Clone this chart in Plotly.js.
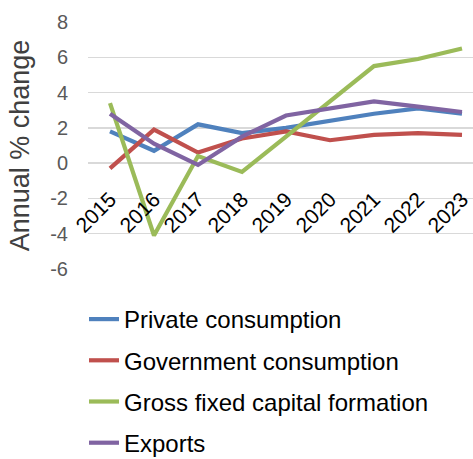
<!DOCTYPE html>
<html>
<head>
<meta charset="utf-8">
<script src="https://cdn.plot.ly/plotly-3.0.1.min.js"></script>
<style>
html,body{margin:0;padding:0;background:#fff;overflow:hidden;}
#wrap{width:473px;height:459px;overflow:hidden;position:relative;}
#chart{width:473px;height:474px;}
</style>
</head>
<body>
<div id="wrap"><div id="chart"></div></div>
<script>
var years = ['2015','2016','2017','2018','2019','2020','2021','2022','2023'];
var privateConsumption = [1.8, 0.7, 2.2, 1.7, 2.0, 2.4, 2.8, 3.1, 2.8];
var governmentConsumption = [-0.3, 1.9, 0.6, 1.4, 1.8, 1.3, 1.6, 1.7, 1.6];
var grossFixedCapital = [3.4, -4.1, 0.4, -0.5, 1.5, 3.5, 5.5, 5.9, 6.5];
var exportsGrowth = [2.8, 1.1, -0.1, 1.5, 2.7, 3.1, 3.5, 3.2, 2.9];
var seriesNames = ['Private consumption','Government consumption','Gross fixed capital formation','Exports'];
var seriesColors = ['#4F81BD','#C0504D','#9BBB59','#8064A2'];
var yTicks = [-6,-4,-2,0,2,4,6,8];

var seriesData = [privateConsumption, governmentConsumption, grossFixedCapital, exportsGrowth];
var traces = seriesData.map(function(vals, i){
  return {
    type: 'scatter', mode: 'lines',
    x: years, y: vals, name: seriesNames[i],
    legendgroup: 'g' + i,
    line: {color: seriesColors[i], width: 4.2},
    hoverinfo: 'skip'
  };
});

var FONT = 'Liberation Sans, Arial, sans-serif';
var W = 473, H = 474;               // figure slightly taller than the 459px window; bottom padding is clipped by #wrap
var plotL = 88, plotT = 22, plotB = 269;
var plotH = plotB - plotT, plotW = W - plotL;
var layout = {
  width: W, height: H,
  margin: {l: plotL, r: 0, t: plotT, b: H - plotB, pad: 0},
  paper_bgcolor: '#ffffff', plot_bgcolor: '#ffffff',
  font: {family: FONT, size: 20, color: '#000000'},
  showlegend: true,
  legend: {
    xref: 'paper', yref: 'paper',
    x: (84 - plotL) / plotW, y: (plotB - 297) / plotH, xanchor: 'left', yanchor: 'top',
    font: {family: FONT, size: 24, color: '#000000'},
    tracegroupgap: 7, bgcolor: 'rgba(0,0,0,0)', borderwidth: 0
  },
  xaxis: {
    type: 'category', range: [-0.5, 8.25],
    anchor: 'free', position: 6/14,
    showgrid: false, zeroline: false, showline: false,
    ticks: '', tickangle: -45,
    ticklabelstandoff: 19,
    tickfont: {family: FONT, size: 21, color: '#000000'},
    automargin: false, fixedrange: true
  },
  yaxis: {
    range: [-6, 8], domain: [0, 1],
    tickvals: yTicks, ticktext: yTicks.map(String),
    showgrid: true, gridcolor: '#D9D9D9', gridwidth: 1.3,
    zeroline: false, showline: false, ticks: '',
    ticklabelstandoff: 19,
    tickfont: {family: FONT, size: 20, color: '#595959'},
    title: {text: 'Annual % change', font: {family: FONT, size: 27, color: '#404040'}, standoff: 12},
    automargin: false, fixedrange: true
  }
};

Plotly.newPlot('chart', traces, layout, {staticPlot: true, displayModeBar: false});
</script>
</body>
</html>
